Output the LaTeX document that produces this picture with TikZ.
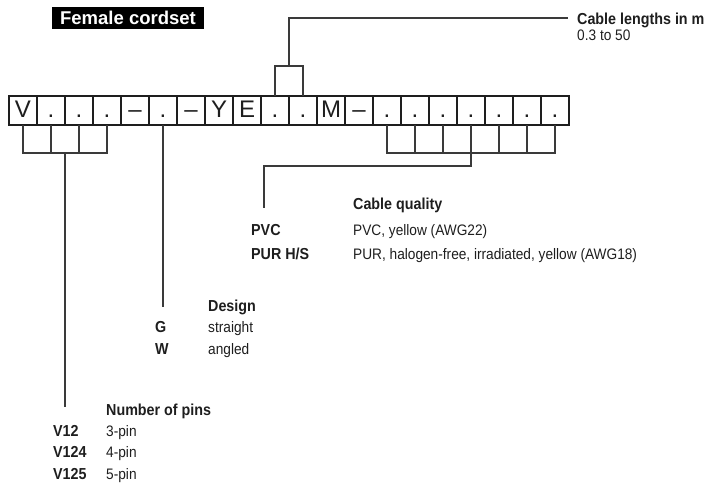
\documentclass[tikz,border=0pt]{standalone}
\usepackage{fontspec}
\setmainfont{Liberation Sans}
\newfontfamily\narrowfont{Liberation Sans}[FakeStretch=0.9]
\usetikzlibrary{positioning,calc}
\definecolor{linegrey}{HTML}{3A3A3A}
\definecolor{textblack}{HTML}{1E1E1E}
\newcommand{\rowfont}{\narrowfont\fontsize{15.2}{18}\selectfont}
\newcommand{\keyfont}{\narrowfont\fontsize{15.9}{18}\selectfont\bfseries}

\begin{document}
\begin{tikzpicture}[x=1pt,y=-1pt,
  cell/.style={draw=textblack,line width=1.4pt,inner sep=0pt,outer sep=0pt,
               minimum width=28pt,minimum height=29pt,text height=17pt,text depth=4pt,
               font=\fontsize{24}{28}\selectfont,text=textblack},
  row/.style={anchor=base west,inner sep=0pt,font=\rowfont,text=textblack},
  key/.style={row,font=\keyfont},
  lead/.style={linegrey,line width=1.1pt}]
  \useasboundingbox (0,0) rectangle (711,483);
  \node[fill=black,text=white,inner sep=0pt,minimum width=152pt,minimum height=22pt,
        font=\fontsize{18.5}{20}\selectfont\bfseries] (title) at (128,18) {Female cordset};
  % the code strip
  \foreach \t [count=\i from 0] in {V,.,.,.,–,.,–,Y,E,.,.,M,–,.,.,.,.,.,.,.}
    \node[cell] (c\i) at (23+28*\i,110.5) {\t};
  \draw[textblack,line width=2.2pt] (c0.north west) rectangle (c19.south east);
  % number of pins
  \draw[lead] (c0.south) -- ++(0,28) -| (c3.south);
  \draw[lead] (c1.south) -- ++(0,28) (c2.south) -- ++(0,28);
  \coordinate (pinsend) at (65,407);
  \draw[lead] (c1.south east) ++(0,28) -- (pinsend);
  \node[key] (pinshead) at (106,415) {Number of pins};
  \node[key] (v12) at (53,436) {V12};
  \node[row] (v12txt) at (106,436) {3-pin};
  \node[key] (v124) at (53,457.5) {V124};
  \node[row] (v124txt) at (106,457.5) {4-pin};
  \node[key] (v125) at (53,479) {V125};
  \node[row] (v125txt) at (106,479) {5-pin};
  % design
  \coordinate (designend) at (163,307);
  \draw[lead] (c5.south) -- (designend);
  \node[key] (designhead) at (208,311) {Design};
  \node[key] (g) at (155,332) {G};
  \node[row] (gtxt) at (208,332) {straight};
  \node[key] (w) at (155,354) {W};
  \node[row] (wtxt) at (208,354) {angled};
  % cable quality
  \draw[lead] (c13.south) -- ++(0,28) -| (c19.south);
  \foreach \i in {14,...,18}
    \draw[lead] (c\i.south) -- ++(0,28);
  \coordinate (qualend) at (264,208);
  \draw[lead] (c16.south) ++(0,28) -- ++(0,13) -| (qualend);
  \node[key] (qualhead) at (353,209) {Cable quality};
  \node[key] (pvc) at (251,235) {PVC};
  \node[row] (pvctxt) at (353,235) {PVC, yellow (AWG22)};
  \node[key] (pur) at (251,259) {PUR H/S};
  \node[row] (purtxt) at (353,259) {PUR, halogen-free, irradiated, yellow (AWG18)};
  % cable length
  \draw[lead] (c9.north) -- ++(0,-30) -| (c10.north);
  \coordinate (lenend) at (568,18);
  \draw[lead] (c10.north west) ++(0,-30) |- (lenend);
  \node[key] (lenhead) at (577,24) {Cable lengths in m};
  \node[row] (lentxt) at (577,40.5) {0.3 to 50};
\end{tikzpicture}
\end{document}
